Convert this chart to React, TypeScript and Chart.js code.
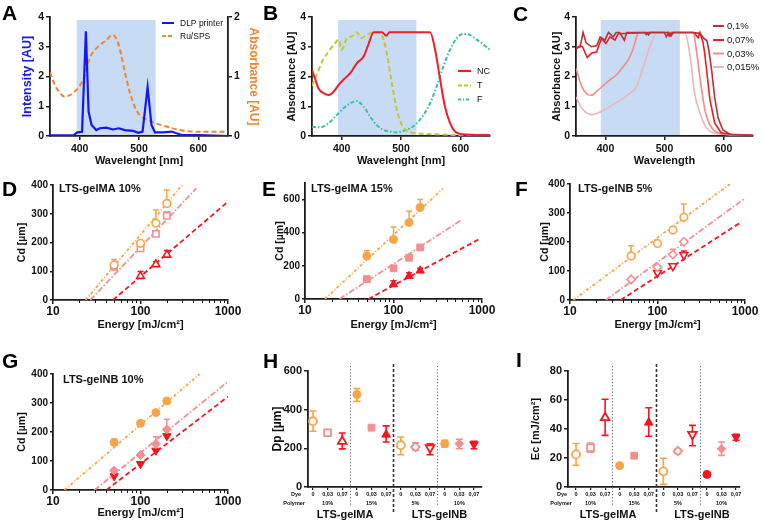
import React, { useEffect, useRef } from 'react';
import { Chart, registerables } from 'chart.js';

Chart.register(...registerables);

const FF = '"Liberation Sans", Arial, Helvetica, sans-serif';
Chart.defaults.font.family = FF;

// ===================== DATA =====================
const wlTicks = [400, 500, 600];

// Panel A
const seriesA = ['DLP printer', 'Ru/SPS'];
const wlDLP = [350, 390, 396, 404, 410.5, 415, 420, 428, 434, 445, 456, 466, 476, 490, 499, 506, 514.5, 521, 527, 541, 555, 563, 572, 602, 650];
const intensityDLP = [0.02, 0.03, 0.12, 0.14, 3.52, 0.82, 0.37, 0.2, 0.26, 0.28, 0.22, 0.26, 0.2, 0.17, 0.11, 0.15, 1.64, 0.37, 0.12, 0.12, 0.15, 0.09, 0.03, 0.03, 0];
const wlRu = [350, 358, 367, 375, 384, 392, 400, 409, 417, 426, 434, 445, 455, 461, 468, 476, 485, 493, 501, 513, 529, 546, 569, 602, 650];
const absRu = [1.07, 0.86, 0.72, 0.66, 0.69, 0.75, 0.84, 1.03, 1.31, 1.45, 1.53, 1.61, 1.7, 1.65, 1.45, 1.08, 0.72, 0.49, 0.35, 0.28, 0.21, 0.16, 0.1, 0.07, 0.07];
const shadeA = [395, 528, 3.9];

// Panel B
const seriesB = ['NC', 'T', 'F'];
const wlNC = [350, 355.6, 361, 369.6, 378, 386.5, 395, 403, 414.5, 425.7, 437, 445, 453.8, 467.8, 475, 480.7, 549, 557.5, 566, 574, 582.7, 591, 602, 650];
const absNC = [2.22, 1.89, 1.6, 1.44, 1.38, 1.49, 1.72, 1.89, 2.11, 2.45, 2.67, 3.07, 3.49, 3.49, 3.37, 3.49, 3.49, 2.9, 1.89, 0.99, 0.43, 0.15, 0.06, 0.03];
const wlT = [350, 358, 367, 378, 389, 395, 400, 409, 417, 425.7, 433, 442.5, 454, 465, 470.6, 477, 484.6, 493, 501.4, 512.6, 526.7, 554.7, 594, 650];
const absT = [1.69, 2.06, 2.5, 2.84, 3.12, 3.24, 2.9, 3.29, 3.35, 3.49, 3.29, 3.4, 3.49, 3.46, 3.24, 2.67, 1.78, 0.88, 0.37, 0.15, 0.09, 0.06, 0.03, 0.02];
const wlF = [350, 364, 378, 392, 403, 414.5, 424.6, 437, 448, 459, 470.6, 481.8, 493, 504, 515.4, 526.7, 538, 549, 560, 571.5, 582.7, 594, 605, 616, 627.6, 639, 650];
const absF = [0.31, 0.29, 0.43, 0.71, 0.93, 1.1, 1.18, 0.99, 0.65, 0.37, 0.2, 0.15, 0.12, 0.17, 0.26, 0.43, 0.71, 1.1, 1.66, 2.34, 2.9, 3.29, 3.43, 3.4, 3.24, 3.07, 2.9];
const shadeB = [394, 526, 3.9];

// Panel C
const seriesC = ['0,1%', '0,07%', '0,03%', '0,015%'];
const wlC1 = [350, 357, 362, 367, 376, 385, 391, 399, 405, 413, 418, 424, 432, 436, 466, 469, 472, 500, 503, 507, 511, 515, 548, 560, 566, 572, 575, 580, 585, 591, 599, 611, 650];
const absC1 = [2.94, 3.0, 3.48, 3.13, 3.0, 3.03, 3.33, 3.22, 3.48, 3.33, 3.48, 3.48, 3.22, 3.48, 3.48, 3.41, 3.48, 3.48, 3.33, 3.48, 3.36, 3.48, 3.48, 3.45, 3.3, 3.2, 2.9, 2.2, 1.3, 0.6, 0.2, 0.06, 0.02];
const wlC07 = [350, 356, 361, 369, 376.5, 385, 393, 400.8, 407.5, 416, 421.6, 470, 473, 476, 505, 508, 512, 550, 557, 560, 565, 568, 572, 577, 585, 596, 616, 650];
const absC07 = [2.94, 3.02, 3.0, 2.64, 2.78, 2.83, 3.28, 3.11, 3.33, 3.22, 3.44, 3.48, 3.4, 3.48, 3.48, 3.36, 3.48, 3.48, 3.3, 3.48, 3.17, 2.8, 2.1, 1.22, 0.44, 0.11, 0.04, 0.02];
const wlC03 = [350, 359.6, 368, 376.5, 385, 396, 407.5, 419, 430, 438.5, 447, 452.6, 455.5, 548.5, 554, 559.8, 565.5, 571, 582, 596.5, 650];
const absC03 = [2.28, 1.67, 1.42, 1.37, 1.5, 1.69, 1.89, 2.06, 2.33, 2.56, 2.94, 3.33, 3.48, 3.48, 2.89, 2.0, 1.22, 0.67, 0.22, 0.08, 0.02];
const wlC015 = [350, 359.6, 368, 376.5, 388, 399, 413, 427, 438.5, 452.6, 464, 475, 483.7, 489, 534.4, 540, 545.7, 551, 560, 571, 585, 650];
const absC015 = [1.31, 0.94, 0.78, 0.72, 0.78, 0.89, 1.06, 1.22, 1.39, 1.67, 2.33, 3.0, 3.39, 3.48, 3.48, 3.11, 2.33, 1.44, 0.78, 0.28, 0.09, 0.02];
const shadeC = [392, 526, 3.9];

// Panels D-G (Cd vs energy)
const energies = [50, 100, 150, 200];
const logTickValues = [10, 20, 30, 40, 50, 60, 70, 80, 90, 100, 200, 300, 400, 500, 600, 700, 800, 900, 1000];
const logTickLabels = [10, 100, 1000];

const dOrange = [122, 197, 267, 336];
const dOrangeErr = [19, 0, 46, 47];
const dPink = [116, 180, 230, 293];
const dPinkErr = [0, 0, 0, 14];
const dRed = [null, 83, 124, 157];
const dRedErr = [0, 16, 9, 15];
const dFitOrange = [[23.6, 0], [300, 400]];
const dFitPink = [[26.7, 0], [434, 388]];
const dFitRed = [[48.5, 0], [1000, 342]];

const eOrange = [259, 359, 462, 552];
const eOrangeErr = [32, 76, 68, 48];
const ePink = [120, 185, 249, 311];
const ePinkErr = [0, 0, 0, 0];
const eRed = [null, 88, 138, 171];
const eRedErr = [0, 22, 21, 14];
const eFitOrange = [[16.8, 0], [362, 666]];
const eFitPink = [[24.5, 0], [569, 472]];
const eFitRed = [[52, 0], [955, 365]];

const fOrange = [152, 195, 241, 285];
const fOrangeErr = [35, 0, 0, 46];
const fPink = [71, 113, 157, 201];
const fPinkErr = [0, 0, 18, 0];
const fRed = [null, 94, 117, 155];
const fRedErr = [0, 0, 0, 14];
const fFitOrange = [[10.9, 0], [674, 400]];
const fFitPink = [[25.7, 0], [1000, 351]];
const fFitRed = [[37.9, 0], [916, 270]];

const gOrange = [164, 230, 267, 307];
const gOrangeErr = [12, 9, 9, 0];
const gPink = [67, 121, 159, 209];
const gPinkErr = [0, 0, 25, 35];
const gRed = [48, 90, 136, 186];
const gRedErr = [0, 0, 0, 0];
const gFitOrange = [[13.5, 0], [475, 400]];
const gFitPink = [[29.9, 0], [1000, 374]];
const gFitRed = [[40.8, 0], [1000, 322]];

const cdLabels = ['LTS-gelMA 10%', 'LTS-gelMA 15%', 'LTS-gelNB 5%', 'LTS-gelNB 10%'];

// Panels H, I
const dyeLabels = ['0', '0,03', '0,07', '0', '0,03', '0,07', '0', '0,03', '0,07', '0', '0,03', '0,07'];
const polymerLabels = ['', '10%', '', '', '15%', '', '', '5%', '', '', '10%', ''];
const groupLabels = ['LTS-gelMA', 'LTS-gelNB'];
const dpValues = [340, 281, 236, 478, 307, 271, 216, 207, 203, 224, 224, 221];
const dpErrHi = [53, 5, 43, 31, 0, 45, 43, 21, 21, 17, 23, 15];
const dpErrLo = [52, 5, 39, 35, 0, 38, 49, 17, 36, 17, 26, 23];
const ecValues = [22.5, 27, 47.8, 14.7, 21.6, 44.4, 10.8, 24.8, 36.3, 8.7, 26.4, 34.5];
const ecErrHi = [7.5, 3.3, 12.7, 0, 0, 10.3, 9, 1.6, 6.2, 0, 4.6, 1.8];
const ecErrLo = [7.5, 3, 12.2, 0, 0, 9.4, 9, 1.8, 7.8, 0, 4.6, 2.3];

// ===================== STYLE / LAYOUT =====================
type Rect = { x: number; y: number; w: number; h: number };
type Plot = { L: number; T: number; R: number; B: number };

const AX = '#1c1c1c';
const BLUE = '#1616f5';
const ORANGE_RU = '#f7822c';
const NC_RED = '#f01e28';
const T_OLIVE = '#c6c62c';
const F_TEAL = '#2fc49c';
const C1 = '#b8323a';
const C07 = '#ee1c25';
const C03 = '#f48a8a';
const C015 = '#e9b7b7';
const ORANGE = '#f8a448';
const PINK = '#f38f8f';
const RED = '#f4151f';
const SHADE = '#c7dbf4';

const rA: Rect = { x: 0, y: 0, w: 262, h: 168 };
const pA: Plot = { L: 50, T: 17, R: 228, B: 136 };
const rB: Rect = { x: 260, y: 0, w: 250, h: 168 };
const pB: Plot = { L: 312, T: 17, R: 490, B: 136 };
const rC: Rect = { x: 512, y: 0, w: 253, h: 168 };
const pC: Plot = { L: 576, T: 17, R: 753, B: 136 };
const rD: Rect = { x: 0, y: 165, w: 255, h: 170 };
const pD: Plot = { L: 53, T: 185, R: 228, B: 300 };
const rE: Rect = { x: 258, y: 165, w: 252, h: 170 };
const pE: Plot = { L: 305, T: 183, R: 482, B: 299 };
const rF: Rect = { x: 512, y: 165, w: 253, h: 170 };
const pF: Plot = { L: 570, T: 184, R: 745, B: 300 };
const rG: Rect = { x: 0, y: 345, w: 255, h: 181 };
const pG: Plot = { L: 53, T: 374, R: 228, B: 490 };
const rH: Rect = { x: 258, y: 345, w: 250, h: 181 };
const pH: Plot = { L: 308, T: 371, R: 482, B: 487 };
const rI: Rect = { x: 512, y: 345, w: 253, h: 181 };
const pI: Plot = { L: 568, T: 371, R: 740, B: 487 };

function fnt(size: number, bold = true, lh = 1) {
  return { family: FF, size, weight: bold ? 'bold' : 'normal', lineHeight: lh };
}

function zeroPad(s: any) {
  s.paddingLeft = 0;
  s.paddingRight = 0;
  s.paddingTop = 0;
  s.paddingBottom = 0;
}

function xAxis(c: Rect, p: Plot, o: any) {
  const h = c.y + c.h - p.B;
  const ax: any = {
    type: o.type || 'linear',
    position: 'bottom',
    min: o.min,
    max: o.max,
    afterFit: (s: any) => {
      s.height = h;
      zeroPad(s);
    },
    grid: {
      display: true,
      drawOnChartArea: false,
      color: AX,
      lineWidth: o.tickWidth || 1.5,
      tickLength: o.tickLen || 4,
    },
    border: { display: true, color: AX, width: 1.8 },
    ticks: {
      color: '#111',
      font: fnt(o.tickSize, true, o.tickLH || 1.2),
      padding: o.tickPad !== undefined ? o.tickPad : 1,
      maxRotation: 0,
      minRotation: 0,
      autoSkip: false,
      includeBounds: false,
    },
    title: { display: false },
  };
  if (o.cb) ax.ticks.callback = o.cb;
  if (o.tickValues) {
    ax.afterBuildTicks = (s: any) => {
      s.ticks = o.tickValues.map((v: number) => ({ value: v }));
    };
  }
  if (o.title) {
    ax.title = {
      display: true,
      text: o.title,
      color: o.titleColor || '#111',
      font: fnt(o.titleSize),
      padding: { top: 0, bottom: c.y + c.h - o.titleY - o.titleSize / 2 },
    };
  }
  return ax;
}

function yAxis(c: Rect, p: Plot, o: any) {
  const right = o.position === 'right';
  const w = right ? c.x + c.w - p.R : p.L - c.x;
  const pad = right ? c.x + c.w - o.titleX - o.titleSize / 2 : o.titleX - c.x - o.titleSize / 2;
  return {
    type: 'linear',
    position: right ? 'right' : 'left',
    min: o.min,
    max: o.max,
    afterFit: (s: any) => {
      s.width = w;
      zeroPad(s);
    },
    grid: { display: true, drawOnChartArea: false, color: AX, lineWidth: 1.5, tickLength: o.tickLen || 4 },
    border: { display: true, color: AX, width: 1.8 },
    ticks: {
      color: '#111',
      font: fnt(o.tickSize, true, 1.2),
      padding: o.tickPad !== undefined ? o.tickPad : 2,
      stepSize: o.step,
      includeBounds: false,
    },
    title: {
      display: true,
      text: o.title,
      color: o.titleColor || '#111',
      font: fnt(o.titleSize),
      padding: { top: pad, bottom: 0 },
    },
  };
}

function baseOptions(c: Rect, p: Plot, scales: any, hasRight = false) {
  return {
    responsive: false,
    animation: false,
    events: [],
    layout: {
      padding: { top: p.T - c.y, left: 0, bottom: 0, right: hasRight ? 0 : c.x + c.w - p.R },
    },
    plugins: { legend: { display: false }, tooltip: { enabled: false }, title: { display: false } },
    scales,
  };
}

function lineDs(xs: number[], ys: number[], color: string, o: any = {}) {
  return {
    type: 'line',
    data: xs.map((x, i) => ({ x, y: ys[i] })),
    borderColor: color,
    backgroundColor: color,
    borderWidth: o.width || 1.8,
    borderDash: o.dash || [],
    pointRadius: 0,
    tension: o.smooth ? 0.4 : 0,
    cubicInterpolationMode: o.smooth ? 'monotone' : 'default',
    yAxisID: o.axis || 'y',
    order: o.order !== undefined ? o.order : 1,
    fill: false,
  };
}

// ===================== PLUGINS =====================
function shadePlugin(band: number[]) {
  return {
    id: 'shade',
    beforeDatasetsDraw(chart: any) {
      const { ctx, scales } = chart;
      const x1 = scales.x.getPixelForValue(band[0]);
      const x2 = scales.x.getPixelForValue(band[1]);
      const y1 = scales.y.getPixelForValue(band[2]);
      const y2 = scales.y.getPixelForValue(0) - 1;
      ctx.save();
      ctx.fillStyle = SHADE;
      ctx.fillRect(x1, y1, x2 - x1, y2 - y1);
      ctx.restore();
    },
  };
}

function legendPlugin(c: Rect, items: any[], x1: number, x2: number, tx: number, ys: number[], size: number) {
  return {
    id: 'mlegend',
    afterDraw(chart: any) {
      const ctx = chart.ctx;
      ctx.save();
      items.forEach((it, i) => {
        const y = ys[i] - c.y;
        ctx.strokeStyle = it.color;
        ctx.lineWidth = it.width || 2;
        ctx.setLineDash(it.dash || []);
        ctx.beginPath();
        ctx.moveTo(x1 - c.x, y);
        ctx.lineTo(x2 - c.x, y);
        ctx.stroke();
        ctx.setLineDash([]);
        ctx.fillStyle = '#111';
        ctx.font = `${size}px ${FF}`;
        ctx.textBaseline = 'middle';
        ctx.textAlign = 'left';
        ctx.fillText(it.label, tx - c.x, y + 0.5);
      });
      ctx.restore();
    },
  };
}

function textPlugin(fn: (chart: any) => any[]) {
  return {
    id: 'mtext',
    afterDraw(chart: any) {
      const ctx = chart.ctx;
      fn(chart).forEach((t) => {
        ctx.save();
        ctx.font = `${t.bold === false ? '' : 'bold '}${t.size}px ${FF}`;
        ctx.fillStyle = t.color || '#111';
        ctx.textAlign = t.align || 'left';
        ctx.textBaseline = 'middle';
        ctx.fillText(t.text, t.x, t.y);
        ctx.restore();
      });
    },
  };
}

// short minor tick marks for the log axes (major ticks are drawn by the scale)
function minorTickPlugin(values: number[], majors: number[]) {
  return {
    id: 'minorTicks',
    afterDraw(chart: any) {
      const ctx = chart.ctx;
      const sx = chart.scales.x;
      const y0 = chart.chartArea.bottom;
      ctx.save();
      ctx.strokeStyle = AX;
      ctx.lineWidth = 1;
      ctx.beginPath();
      values.forEach((v) => {
        if (majors.includes(v)) return;
        const x = Math.round(sx.getPixelForValue(v)) + 0.5;
        ctx.moveTo(x, y0);
        ctx.lineTo(x, y0 + 3);
      });
      ctx.stroke();
      ctx.restore();
    },
  };
}

const errorBarPlugin = {
  id: 'errbars',
  beforeDatasetsDraw(chart: any) {
    const ctx = chart.ctx;
    const ys = chart.scales.y;
    chart.data.datasets.forEach((ds: any, di: number) => {
      if (!ds.errHi) return;
      const meta = chart.getDatasetMeta(di);
      meta.data.forEach((pt: any, i: number) => {
        const raw = ds.data[i];
        const v = raw && typeof raw === 'object' ? raw.y : raw;
        if (v === null || v === undefined) return;
        const hi = ds.errHi[i] || 0;
        const lo = ds.errLo ? ds.errLo[i] || 0 : 0;
        if (!hi && !lo) return;
        const col = Array.isArray(ds.borderColor) ? ds.borderColor[i] : ds.borderColor;
        const x = pt.x;
        const yTop = ys.getPixelForValue(v + hi);
        const yBot = ys.getPixelForValue(v - lo);
        const cw = ds.capHalf || 3;
        ctx.save();
        ctx.strokeStyle = col;
        ctx.lineWidth = ds.errWidth || 1.5;
        ctx.beginPath();
        ctx.moveTo(x, yTop);
        ctx.lineTo(x, yBot);
        if (hi) {
          ctx.moveTo(x - cw, yTop);
          ctx.lineTo(x + cw, yTop);
        }
        if (lo) {
          ctx.moveTo(x - cw, yBot);
          ctx.lineTo(x + cw, yBot);
        }
        ctx.stroke();
        ctx.restore();
      });
    });
  },
};

function sepPlugin(c: Rect, seps: any[]) {
  return {
    id: 'seps',
    afterDraw(chart: any) {
      const ctx = chart.ctx;
      seps.forEach((s) => {
        const x = Math.round(chart.scales.x.getPixelForValue(s.xv)) + 0.5;
        ctx.save();
        ctx.strokeStyle = s.color;
        ctx.lineWidth = s.width;
        ctx.setLineDash(s.dash);
        ctx.beginPath();
        ctx.moveTo(x, s.y1 - c.y);
        ctx.lineTo(x, s.y2 - c.y);
        ctx.stroke();
        ctx.restore();
      });
    },
  };
}

// ===================== CHART BUILDERS =====================
function wlAxis(c: Rect, p: Plot, title: string) {
  return xAxis(c, p, { min: 350, max: 650, tickValues: wlTicks, tickSize: 10.5, tickPad: 2.5, title, titleSize: 11, titleY: 161 });
}

function makeA() {
  const c = rA;
  const p = pA;
  return {
    type: 'line',
    data: {
      datasets: [
        lineDs(wlDLP, intensityDLP, BLUE, { width: 2.2, axis: 'y', order: 1 }),
        lineDs(wlRu, absRu, ORANGE_RU, { width: 2, dash: [5, 3], smooth: true, axis: 'y2', order: 2 }),
      ],
    },
    options: baseOptions(
      c,
      p,
      {
        x: wlAxis(c, p, 'Wavelenght [nm]'),
        y: yAxis(c, p, { min: 0, max: 4, step: 1, tickSize: 10.5, title: 'Intensity [AU]', titleSize: 12.5, titleX: 28, titleColor: BLUE }),
        y2: yAxis(c, p, { position: 'right', min: 0, max: 2, step: 1, tickSize: 10.5, title: 'Absorbance [AU]', titleSize: 12, titleX: 253, titleColor: ORANGE_RU }),
      },
      true
    ),
    plugins: [
      shadePlugin(shadeA),
      legendPlugin(
        c,
        [
          { label: seriesA[0], color: BLUE, width: 2 },
          { label: seriesA[1], color: ORANGE_RU, width: 2, dash: [4, 2] },
        ],
        162,
        174,
        180,
        [23, 36],
        8.5
      ),
    ],
  };
}

function makeB() {
  const c = rB;
  const p = pB;
  return {
    type: 'line',
    data: {
      datasets: [
        lineDs(wlNC, absNC, NC_RED, { width: 2, smooth: true, order: 1 }),
        lineDs(wlT, absT, T_OLIVE, { width: 2, dash: [5, 3], smooth: true, order: 2 }),
        lineDs(wlF, absF, F_TEAL, { width: 2, dash: [4, 2, 1.5, 2], smooth: true, order: 3 }),
      ],
    },
    options: baseOptions(c, p, {
      x: wlAxis(c, p, 'Wavelenght [nm]'),
      y: yAxis(c, p, { min: 0, max: 4, step: 1, tickSize: 10.5, title: 'Absorbance [AU]', titleSize: 11, titleX: 292 }),
    }),
    plugins: [
      shadePlugin(shadeB),
      legendPlugin(
        c,
        [
          { label: seriesB[0], color: NC_RED, width: 2 },
          { label: seriesB[1], color: T_OLIVE, width: 2, dash: [4, 2] },
          { label: seriesB[2], color: F_TEAL, width: 2, dash: [3, 2, 1, 2] },
        ],
        458,
        471,
        477,
        [71, 85.5, 99.5],
        9
      ),
    ],
  };
}

function makeC() {
  const c = rC;
  const p = pC;
  return {
    type: 'line',
    data: {
      datasets: [
        lineDs(wlC1, absC1, C1, { width: 1.6, order: 1 }),
        lineDs(wlC07, absC07, C07, { width: 1.6, order: 2 }),
        lineDs(wlC03, absC03, C03, { width: 1.6, smooth: true, order: 3 }),
        lineDs(wlC015, absC015, C015, { width: 1.6, smooth: true, order: 4 }),
      ],
    },
    options: baseOptions(c, p, {
      x: wlAxis(c, p, 'Wavelength'),
      y: yAxis(c, p, { min: 0, max: 4, step: 1, tickSize: 10.5, title: 'Absorbance [AU]', titleSize: 11, titleX: 557 }),
    }),
    plugins: [
      shadePlugin(shadeC),
      legendPlugin(
        c,
        [
          { label: seriesC[0], color: C1, width: 2 },
          { label: seriesC[1], color: C07, width: 2 },
          { label: seriesC[2], color: C03, width: 2 },
          { label: seriesC[3], color: C015, width: 2 },
        ],
        713,
        724,
        727,
        [26, 40, 53.5, 67],
        9.5
      ),
    ],
  };
}

function makeCd(c: Rect, p: Plot, o: any) {
  const datasets: any[] = [];
  o.series.forEach((s: any) => {
    datasets.push({
      type: 'scatter',
      data: energies.map((x, i) => ({ x, y: s.vals[i] })),
      pointStyle: s.style,
      pointRotation: s.rot || 0,
      pointRadius: s.r,
      pointBackgroundColor: s.open ? '#fff' : s.color,
      pointBorderColor: s.color,
      pointBorderWidth: s.open ? 1.6 : 1,
      borderColor: s.color,
      backgroundColor: s.color,
      showLine: false,
      order: 0,
      errHi: s.err,
      capHalf: 3,
      errWidth: 1.5,
    });
  });
  o.fits.forEach((f: any) => {
    datasets.push(
      lineDs(
        f.pts.map((q: number[]) => q[0]),
        f.pts.map((q: number[]) => q[1]),
        f.color,
        { dash: f.dash, width: 1.8, order: 3 }
      )
    );
  });
  const majors = logTickLabels;
  const x = xAxis(c, p, {
    type: 'logarithmic',
    min: 10,
    max: 1000,
    tickSize: 12,
    tickValues: logTickValues,
    tickLen: 4,
    tickPad: 0,
    cb: (v: number) => (majors.includes(v) ? String(v) : ''),
    title: 'Energy [mJ/cm²]',
    titleSize: 11,
    titleY: o.titleY,
  });
  x.grid.tickColor = (ctx: any) => (ctx.tick && majors.includes(ctx.tick.value) ? AX : 'rgba(0,0,0,0)');
  return {
    type: 'scatter',
    data: { datasets },
    options: baseOptions(c, p, {
      x,
      y: yAxis(c, p, { min: 0, max: o.yMax, step: o.yStep, tickSize: 10, tickLen: 3, tickPad: 2, title: 'Cd [µm]', titleSize: 10.5, titleX: o.titleX }),
    }),
    plugins: [
      errorBarPlugin,
      minorTickPlugin(logTickValues, majors),
      textPlugin((chart: any) => [
        { text: o.label, x: chart.chartArea.left + o.labelDX, y: chart.chartArea.top + o.labelDY, size: 11 },
      ]),
    ],
  };
}

const RED_DASH = [5, 3];
const PINK_DASH = [6, 2, 1.5, 2];
const ORANGE_DASH = [3, 2, 1, 2];

function makeD() {
  return makeCd(rD, pD, {
    yMax: 400,
    yStep: 100,
    titleX: 22,
    titleY: 325,
    label: cdLabels[0],
    labelDX: 6,
    labelDY: 4,
    series: [
      { vals: dOrange, err: dOrangeErr, color: ORANGE, style: 'circle', r: 3.8, open: true },
      { vals: dPink, err: dPinkErr, color: PINK, style: 'rect', r: 4.5, open: true },
      { vals: dRed, err: dRedErr, color: RED, style: 'triangle', r: 4.5, open: true },
    ],
    fits: [
      { pts: dFitOrange, color: ORANGE, dash: ORANGE_DASH },
      { pts: dFitPink, color: PINK, dash: PINK_DASH },
      { pts: dFitRed, color: RED, dash: RED_DASH },
    ],
  });
}

function makeE() {
  return makeCd(rE, pE, {
    yMax: 700,
    yStep: 200,
    titleX: 280,
    titleY: 325,
    label: cdLabels[1],
    labelDX: 6,
    labelDY: 6,
    series: [
      { vals: eOrange, err: eOrangeErr, color: ORANGE, style: 'circle', r: 4, open: false },
      { vals: ePink, err: ePinkErr, color: PINK, style: 'rect', r: 4.8, open: false },
      { vals: eRed, err: eRedErr, color: RED, style: 'triangle', r: 4.8, open: false },
    ],
    fits: [
      { pts: eFitOrange, color: ORANGE, dash: ORANGE_DASH },
      { pts: eFitPink, color: PINK, dash: PINK_DASH },
      { pts: eFitRed, color: RED, dash: RED_DASH },
    ],
  });
}

function makeF() {
  return makeCd(rF, pF, {
    yMax: 400,
    yStep: 100,
    titleX: 545,
    titleY: 325,
    label: cdLabels[2],
    labelDX: 8,
    labelDY: 5,
    series: [
      { vals: fOrange, err: fOrangeErr, color: ORANGE, style: 'circle', r: 3.8, open: true },
      { vals: fPink, err: fPinkErr, color: PINK, style: 'rectRot', r: 4.2, open: true },
      { vals: fRed, err: fRedErr, color: RED, style: 'triangle', rot: 180, r: 4.5, open: true },
    ],
    fits: [
      { pts: fFitOrange, color: ORANGE, dash: ORANGE_DASH },
      { pts: fFitPink, color: PINK, dash: PINK_DASH },
      { pts: fFitRed, color: RED, dash: RED_DASH },
    ],
  });
}

function makeG() {
  return makeCd(rG, pG, {
    yMax: 400,
    yStep: 100,
    titleX: 22,
    titleY: 513,
    label: cdLabels[3],
    labelDX: 10,
    labelDY: 6,
    series: [
      { vals: gOrange, err: gOrangeErr, color: ORANGE, style: 'circle', r: 4, open: false },
      { vals: gPink, err: gPinkErr, color: PINK, style: 'rectRot', r: 4.5, open: false },
      { vals: gRed, err: gRedErr, color: RED, style: 'triangle', rot: 180, r: 4.8, open: false },
    ],
    fits: [
      { pts: gFitOrange, color: ORANGE, dash: ORANGE_DASH },
      { pts: gFitPink, color: PINK, dash: PINK_DASH },
      { pts: gFitRed, color: RED, dash: RED_DASH },
    ],
  });
}

const catStyles = ['circle', 'rect', 'triangle', 'circle', 'rect', 'triangle', 'circle', 'rectRot', 'triangle', 'circle', 'rectRot', 'triangle'];
const catRot = [0, 0, 0, 0, 0, 0, 0, 0, 180, 0, 0, 180];
const catOpen = [true, true, true, false, false, false, true, true, true, false, false, false];
const catRadius = [4, 4.8, 5, 4, 4.8, 5, 4, 4.3, 5, 4, 4.3, 5];

function makeCat(c: Rect, p: Plot, o: any) {
  const idx = dyeLabels.map((_, i) => i);
  const ds = {
    type: 'scatter',
    data: o.vals.map((y: number, i: number) => ({ x: i, y })),
    pointStyle: catStyles,
    pointRotation: catRot,
    pointRadius: catRadius,
    pointBackgroundColor: o.colors.map((col: string, i: number) => (catOpen[i] ? '#fff' : col)),
    pointBorderColor: o.colors,
    pointBorderWidth: catOpen.map((v) => (v ? 1.8 : 1)),
    borderColor: o.colors,
    backgroundColor: o.colors,
    showLine: false,
    errHi: o.hi,
    errLo: o.lo,
    capHalf: 3.5,
    errWidth: 1.6,
  };
  const x = xAxis(c, p, {
    min: o.xmin,
    max: o.xmax,
    tickSize: 5.5,
    tickLH: 1.6,
    tickPad: 0,
    tickLen: 3,
    tickWidth: 1.2,
    tickValues: idx,
    cb: (v: number) => [dyeLabels[v], polymerLabels[v]],
  });
  return {
    type: 'scatter',
    data: { datasets: [ds] },
    options: baseOptions(c, p, {
      x,
      y: yAxis(c, p, { min: 0, max: o.yMax, step: o.yStep, tickSize: 11, tickLen: 4, tickPad: 2, title: o.yTitle, titleSize: o.yTitleSize, titleX: o.titleX }),
    }),
    plugins: [
      errorBarPlugin,
      sepPlugin(c, [
        { xv: 2.5, y1: 366, y2: 507, dash: [1.2, 2], color: '#666', width: 1 },
        { xv: 8.5, y1: 366, y2: 507, dash: [1.2, 2], color: '#666', width: 1 },
        { xv: 5.5, y1: 364, y2: 514, dash: [3, 2], color: '#333', width: 1.6 },
      ]),
      textPlugin((chart: any) => {
        const sx = chart.scales.x;
        return [
          { text: 'Dye', x: o.dyeX - c.x, y: 494.5 - c.y, size: 5.5, align: 'right' },
          { text: 'Polymer', x: o.polyX - c.x, y: 503.5 - c.y, size: 5.5, align: 'right' },
          { text: groupLabels[0], x: sx.getPixelForValue(2.2), y: 515 - c.y, size: 11, align: 'center' },
          { text: groupLabels[1], x: sx.getPixelForValue(8.65), y: 515 - c.y, size: 11, align: 'center' },
        ];
      }),
    ],
  };
}

function makeH() {
  return makeCat(rH, pH, {
    vals: dpValues,
    hi: dpErrHi,
    lo: dpErrLo,
    colors: [ORANGE, PINK, RED, ORANGE, PINK, RED, ORANGE, PINK, RED, ORANGE, PINK, RED],
    xmin: -0.34,
    xmax: 11.55,
    yMax: 600,
    yStep: 200,
    yTitle: 'Dp [µm]',
    yTitleSize: 12,
    titleX: 278,
    dyeX: 301,
    polyX: 305,
  });
}

function makeI() {
  return makeCat(rI, pI, {
    vals: ecValues,
    hi: ecErrHi,
    lo: ecErrLo,
    colors: [ORANGE, PINK, RED, ORANGE, PINK, RED, ORANGE, PINK, RED, RED, PINK, RED],
    xmin: -0.55,
    xmax: 11.27,
    yMax: 80,
    yStep: 20,
    yTitle: 'Ec [mJ/cm²]',
    yTitleSize: 11,
    titleX: 536,
    dyeX: 567,
    polyX: 572,
  });
}

// ===================== COMPONENTS =====================
function ChartPanel({ rect, make }: { rect: Rect; make: () => any }) {
  const ref = useRef<HTMLCanvasElement | null>(null);
  useEffect(() => {
    if (!ref.current) return;
    const chart = new Chart(ref.current, make());
    return () => chart.destroy();
  }, []);
  return (
    <canvas
      ref={ref}
      width={rect.w}
      height={rect.h}
      style={{ position: 'absolute', left: rect.x, top: rect.y, width: rect.w, height: rect.h }}
    />
  );
}

const panelLetters = ['A', 'B', 'C', 'D', 'E', 'F', 'G', 'H', 'I'];
const letterPos = [
  [2, 5],
  [263, 5],
  [513, 6],
  [2, 181],
  [262, 181],
  [515, 181],
  [2, 353],
  [263, 353],
  [516, 352],
];

export default function App() {
  return (
    <div
      style={{
        position: 'absolute',
        left: 0,
        top: 0,
        width: 765,
        height: 526,
        background: '#fff',
        overflow: 'hidden',
        fontFamily: FF,
      }}
    >
      <ChartPanel rect={rA} make={makeA} />
      <ChartPanel rect={rB} make={makeB} />
      <ChartPanel rect={rC} make={makeC} />
      <ChartPanel rect={rD} make={makeD} />
      <ChartPanel rect={rE} make={makeE} />
      <ChartPanel rect={rF} make={makeF} />
      <ChartPanel rect={rG} make={makeG} />
      <ChartPanel rect={rH} make={makeH} />
      <ChartPanel rect={rI} make={makeI} />
      {panelLetters.map((l, i) => (
        <div
          key={l}
          style={{
            position: 'absolute',
            left: letterPos[i][0],
            top: letterPos[i][1] - 2.8,
            fontSize: 21,
            lineHeight: '21px',
            fontWeight: 'bold',
            color: '#000',
          }}
        >
          {l}
        </div>
      ))}
    </div>
  );
}
